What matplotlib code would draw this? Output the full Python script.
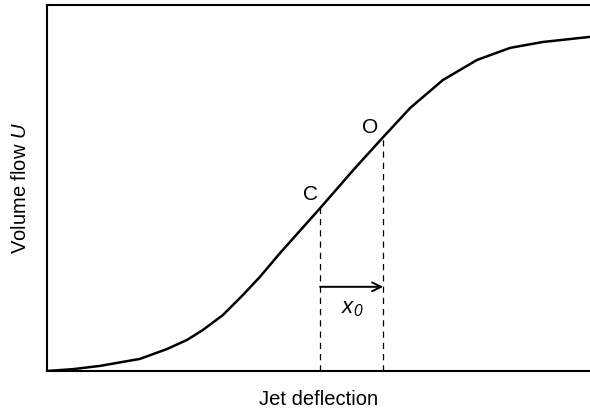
import numpy as np
import matplotlib
matplotlib.use('Agg')
import matplotlib.pyplot as plt

plt.rcParams['font.family'] = ['Liberation Sans', 'DejaVu Sans']
plt.rcParams['mathtext.fontset'] = 'custom'
plt.rcParams['mathtext.rm'] = 'Liberation Sans'
plt.rcParams['mathtext.it'] = 'Liberation Sans:italic'
# italic digits for the subscript
plt.rcParams['mathtext.sf'] = 'Liberation Sans:italic'

# characteristic: volume flow vs jet deflection (arbitrary units)
deflection = [0, 0.48, 0.98, 1.40, 1.71, 2.21, 2.58, 2.87, 3.24, 3.61, 3.92,
              4.29, 5.03, 5.64, 6.19, 6.69, 7.29, 7.92, 8.53, 9.13, 10]
flow = [0, 0.05, 0.14, 0.25, 0.33, 0.60, 0.85, 1.12, 1.53, 2.08, 2.57,
        3.22, 4.45, 5.49, 6.39, 7.19, 7.95, 8.50, 8.83, 8.99, 9.13]

# working points C (closed) and O (open)
x_c, y_c = 5.03, 4.45
x_o, y_o = 6.19, 6.39
arrow_y = 2.3

fig = plt.figure(figsize=(5.9, 4.2), dpi=100)
ax = fig.add_axes([0.0797, 0.1167, 0.9203, 0.8713])

ax.plot(deflection, flow, color='black', lw=1.8,
        solid_capstyle='round', solid_joinstyle='round')

ax.plot([x_c, x_c], [0, y_c], color='black', lw=0.9, ls=(0, (5, 4)))
ax.plot([x_o, x_o], [0, y_o], color='black', lw=0.9, ls=(0, (5, 4)))

ax.annotate('', xy=(x_o, arrow_y), xytext=(x_c, arrow_y),
            arrowprops=dict(arrowstyle='->', lw=1.4, color='black',
                            mutation_scale=16, shrinkA=0, shrinkB=0))
ax.text(5.62, 1.72, r'$x_{\mathsf{0}}$', fontsize=16, ha='center', va='center')

ax.text(4.86, 4.82, 'C', fontsize=15, ha='center', va='center')
ax.text(5.95, 6.66, 'O', fontsize=15, ha='center', va='center')

ax.set_xlim(0, 10)
ax.set_ylim(0, 10)
ax.set_xticks([])
ax.set_yticks([])
ax.spines['right'].set_visible(False)
for s in ['left', 'top', 'bottom']:
    ax.spines[s].set_linewidth(1.5)

ax.set_xlabel('Jet deflection', fontsize=14.5, labelpad=14)
ax.set_ylabel(r'Volume flow $U$', fontsize=14.5, labelpad=12)

fig.savefig('out.png', dpi=100)
